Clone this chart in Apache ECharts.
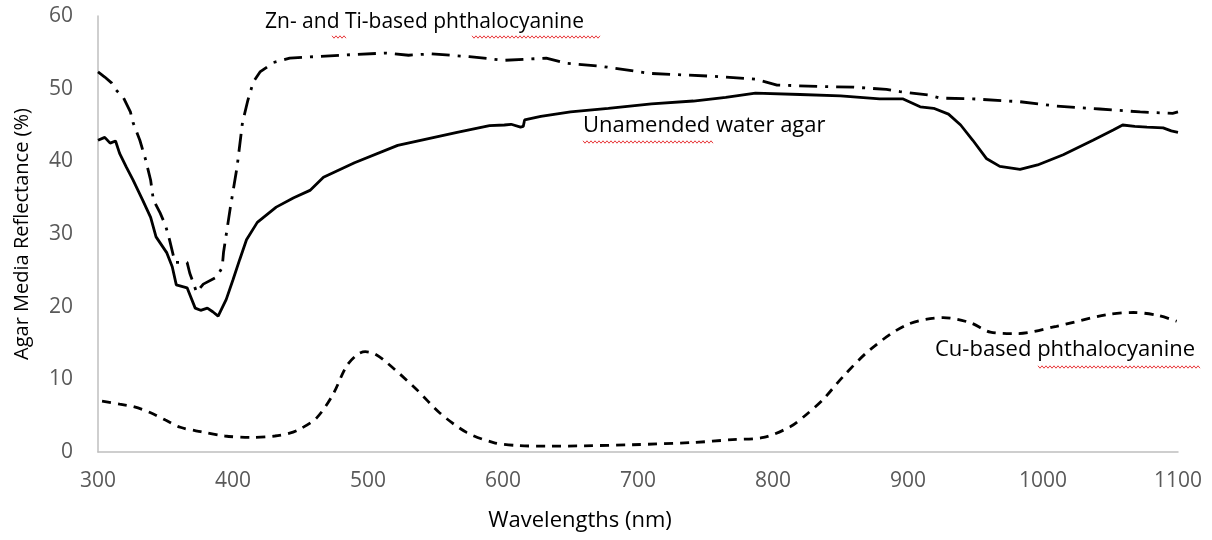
<!DOCTYPE html>
<html>
<head>
<meta charset="utf-8">
<script src="https://cdn.jsdelivr.net/npm/echarts@6/dist/echarts.min.js"></script>
<style>
  html, body { margin: 0; padding: 0; background: #fff; }
  #chart { width: 1212px; height: 540px; }
</style>
</head>
<body>
<div id="chart"></div>
<script>
// wavelength (nm) / reflectance (%)
const agarNm = [300, 305, 309, 313, 316, 321, 326, 333, 339, 343, 351, 355, 358, 366, 372, 376, 381, 385, 389, 395,
  400, 405, 410, 418, 432, 445, 457, 467, 490, 522, 566, 590, 601, 606, 613, 615, 616, 628, 650, 678,
  710, 741, 765, 787, 820, 850, 879, 896, 909, 919, 930, 939, 948, 958, 968, 983, 996, 1015, 1037, 1052,
  1059, 1068, 1077, 1089, 1095, 1100];
const agarVal = [42.9, 43.3, 42.5, 42.8, 41.1, 39.2, 37.4, 34.7, 32.3, 29.6, 27.4, 25.5, 23.0, 22.6, 19.8, 19.5, 19.8, 19.3, 18.7, 21.0,
  23.7, 26.5, 29.2, 31.6, 33.7, 35.0, 36.0, 37.8, 39.8, 42.2, 44.0, 44.9, 45.0, 45.1, 44.7, 44.8, 45.7, 46.2, 46.8, 47.3,
  47.9, 48.3, 48.8, 49.4, 49.2, 49.0, 48.6, 48.6, 47.5, 47.3, 46.5, 45.0, 42.9, 40.4, 39.3, 38.9, 39.5, 40.9, 42.9, 44.3,
  45.0, 44.8, 44.7, 44.6, 44.2, 44.0];

const znTiNm = [300, 305, 310, 313, 319, 324, 326, 331, 335, 339, 341, 346, 350, 353, 357, 366, 368, 373, 378, 388,
  392, 393, 398, 403, 407, 411, 415, 420, 430, 442, 460, 490, 513, 530, 547, 575, 601, 632, 647, 672,
  709, 756, 787, 803, 834, 860, 884, 894, 916, 924, 948, 983, 1010, 1042, 1072, 1096, 1100];
const znTiVal = [52.3, 51.6, 50.8, 49.9, 48.7, 46.8, 45.3, 42.9, 40.4, 37.4, 34.7, 32.9, 31.2, 29.2, 26.1, 26.1, 24.6, 22.0, 23.1, 24.1,
  25.4, 27.5, 33.6, 39.2, 45.3, 48.4, 50.9, 52.3, 53.6, 54.2, 54.4, 54.7, 54.9, 54.6, 54.8, 54.4, 53.9, 54.2, 53.5, 53.1,
  52.1, 51.7, 51.3, 50.5, 50.3, 50.2, 49.9, 49.6, 49.1, 48.7, 48.6, 48.2, 47.6, 47.2, 46.8, 46.6, 46.8];

const cuNm = [303, 316, 327, 339, 350, 361, 376, 394, 413, 431, 442, 450, 462, 474, 484, 492, 498, 505, 514, 536,
  553, 573, 593, 610, 635, 660, 696, 740, 770, 793, 813, 825, 837, 852, 872, 899, 926, 946, 961, 981,
  1010, 1047, 1067, 1085, 1099];
const cuVal = [7.0, 6.6, 6.2, 5.4, 4.4, 3.4, 2.8, 2.2, 2.0, 2.2, 2.6, 3.2, 4.7, 7.9, 11.8, 13.4, 13.8, 13.5, 12.3, 8.6,
  5.4, 2.7, 1.3, 0.9, 0.8, 0.85, 1.0, 1.3, 1.7, 2.0, 3.5, 5.2, 7.2, 10.4, 14.1, 17.5, 18.5, 17.8, 16.5, 16.3,
  17.3, 18.9, 19.2, 18.8, 18.0];

const xTicks = { min: 300, max: 1100, step: 100 };
const yTicks = { min: 0, max: 60, step: 10 };

const FONT = '"Open Sans", "Noto Sans", sans-serif';

function pairs (xs, ys) {
  return xs.map((x, i) => [x, ys[i]]);
}

// red spell-check squiggle under a word
function squiggle (x0, x1, y) {
  const pts = [];
  let up = true;
  for (let x = x0; x <= x1; x += 2) {
    pts.push([x, up ? y - 1.2 : y + 1.2]);
    up = !up;
  }
  return {
    type: 'polyline',
    silent: true,
    shape: { points: pts },
    style: { stroke: '#e8393b', lineWidth: 1, fill: null }
  };
}

function label (text, x, y, size) {
  return {
    type: 'text',
    left: x,
    top: y,
    style: { text: text, font: size + 'px ' + FONT, fill: '#000' }
  };
}

const chart = echarts.init(document.getElementById('chart'));

const option = {
  animation: false,
  backgroundColor: '#fff',
  grid: { left: 98, right: 34, top: 16, bottom: 88, containLabel: false },
  xAxis: {
    type: 'value',
    min: xTicks.min,
    max: xTicks.max,
    interval: xTicks.step,
    name: 'Wavelengths (nm)',
    nameLocation: 'middle',
    nameGap: 58,
    nameTextStyle: { fontSize: 22, color: '#000', fontFamily: FONT, padding: [0, 116, 0, 0] },
    axisLine: { lineStyle: { color: '#bfbfbf', width: 1.5 } },
    axisTick: { show: false },
    splitLine: { show: false },
    axisLabel: { fontSize: 21, color: '#595959', margin: 19, fontFamily: FONT, formatter: v => String(v) }
  },
  yAxis: {
    type: 'value',
    min: yTicks.min,
    max: yTicks.max,
    interval: yTicks.step,
    name: 'Agar Media Reflectance (%)',
    nameLocation: 'middle',
    nameGap: 66,
    nameTextStyle: { fontSize: 20, color: '#000', fontFamily: FONT },
    axisLine: { show: true, lineStyle: { color: '#bfbfbf', width: 1.5 } },
    axisTick: { show: false },
    splitLine: { show: false },
    axisLabel: { fontSize: 21, color: '#595959', margin: 25, fontFamily: FONT }
  },
  series: [
    {
      name: 'Unamended water agar',
      type: 'line',
      data: pairs(agarNm, agarVal),
      showSymbol: false,
      lineStyle: { color: '#000', width: 2.8, type: 'solid' }
    },
    {
      name: 'Zn- and Ti-based phthalocyanine',
      type: 'line',
      data: pairs(znTiNm, znTiVal),
      showSymbol: false,
      lineStyle: { color: '#000', width: 2.8, type: [18, 8, 3, 8] }
    },
    {
      name: 'Cu-based phthalocyanine',
      type: 'line',
      data: pairs(cuNm, cuVal),
      showSymbol: false,
      smooth: 0.3,
      lineStyle: { color: '#000', width: 2.8, type: [9, 7] }
    }
  ],
  graphic: [
    label('Zn- and Ti-based phthalocyanine', 265, 12, 21),
    label('Unamended water agar', 583, 115, 22),
    label('Cu-based phthalocyanine', 935, 339, 22),
    squiggle(332, 347, 37),
    squiggle(472, 600, 37),
    squiggle(583, 713, 142),
    squiggle(1038, 1200, 367)
  ]
};

chart.setOption(option);
</script>
</body>
</html>
